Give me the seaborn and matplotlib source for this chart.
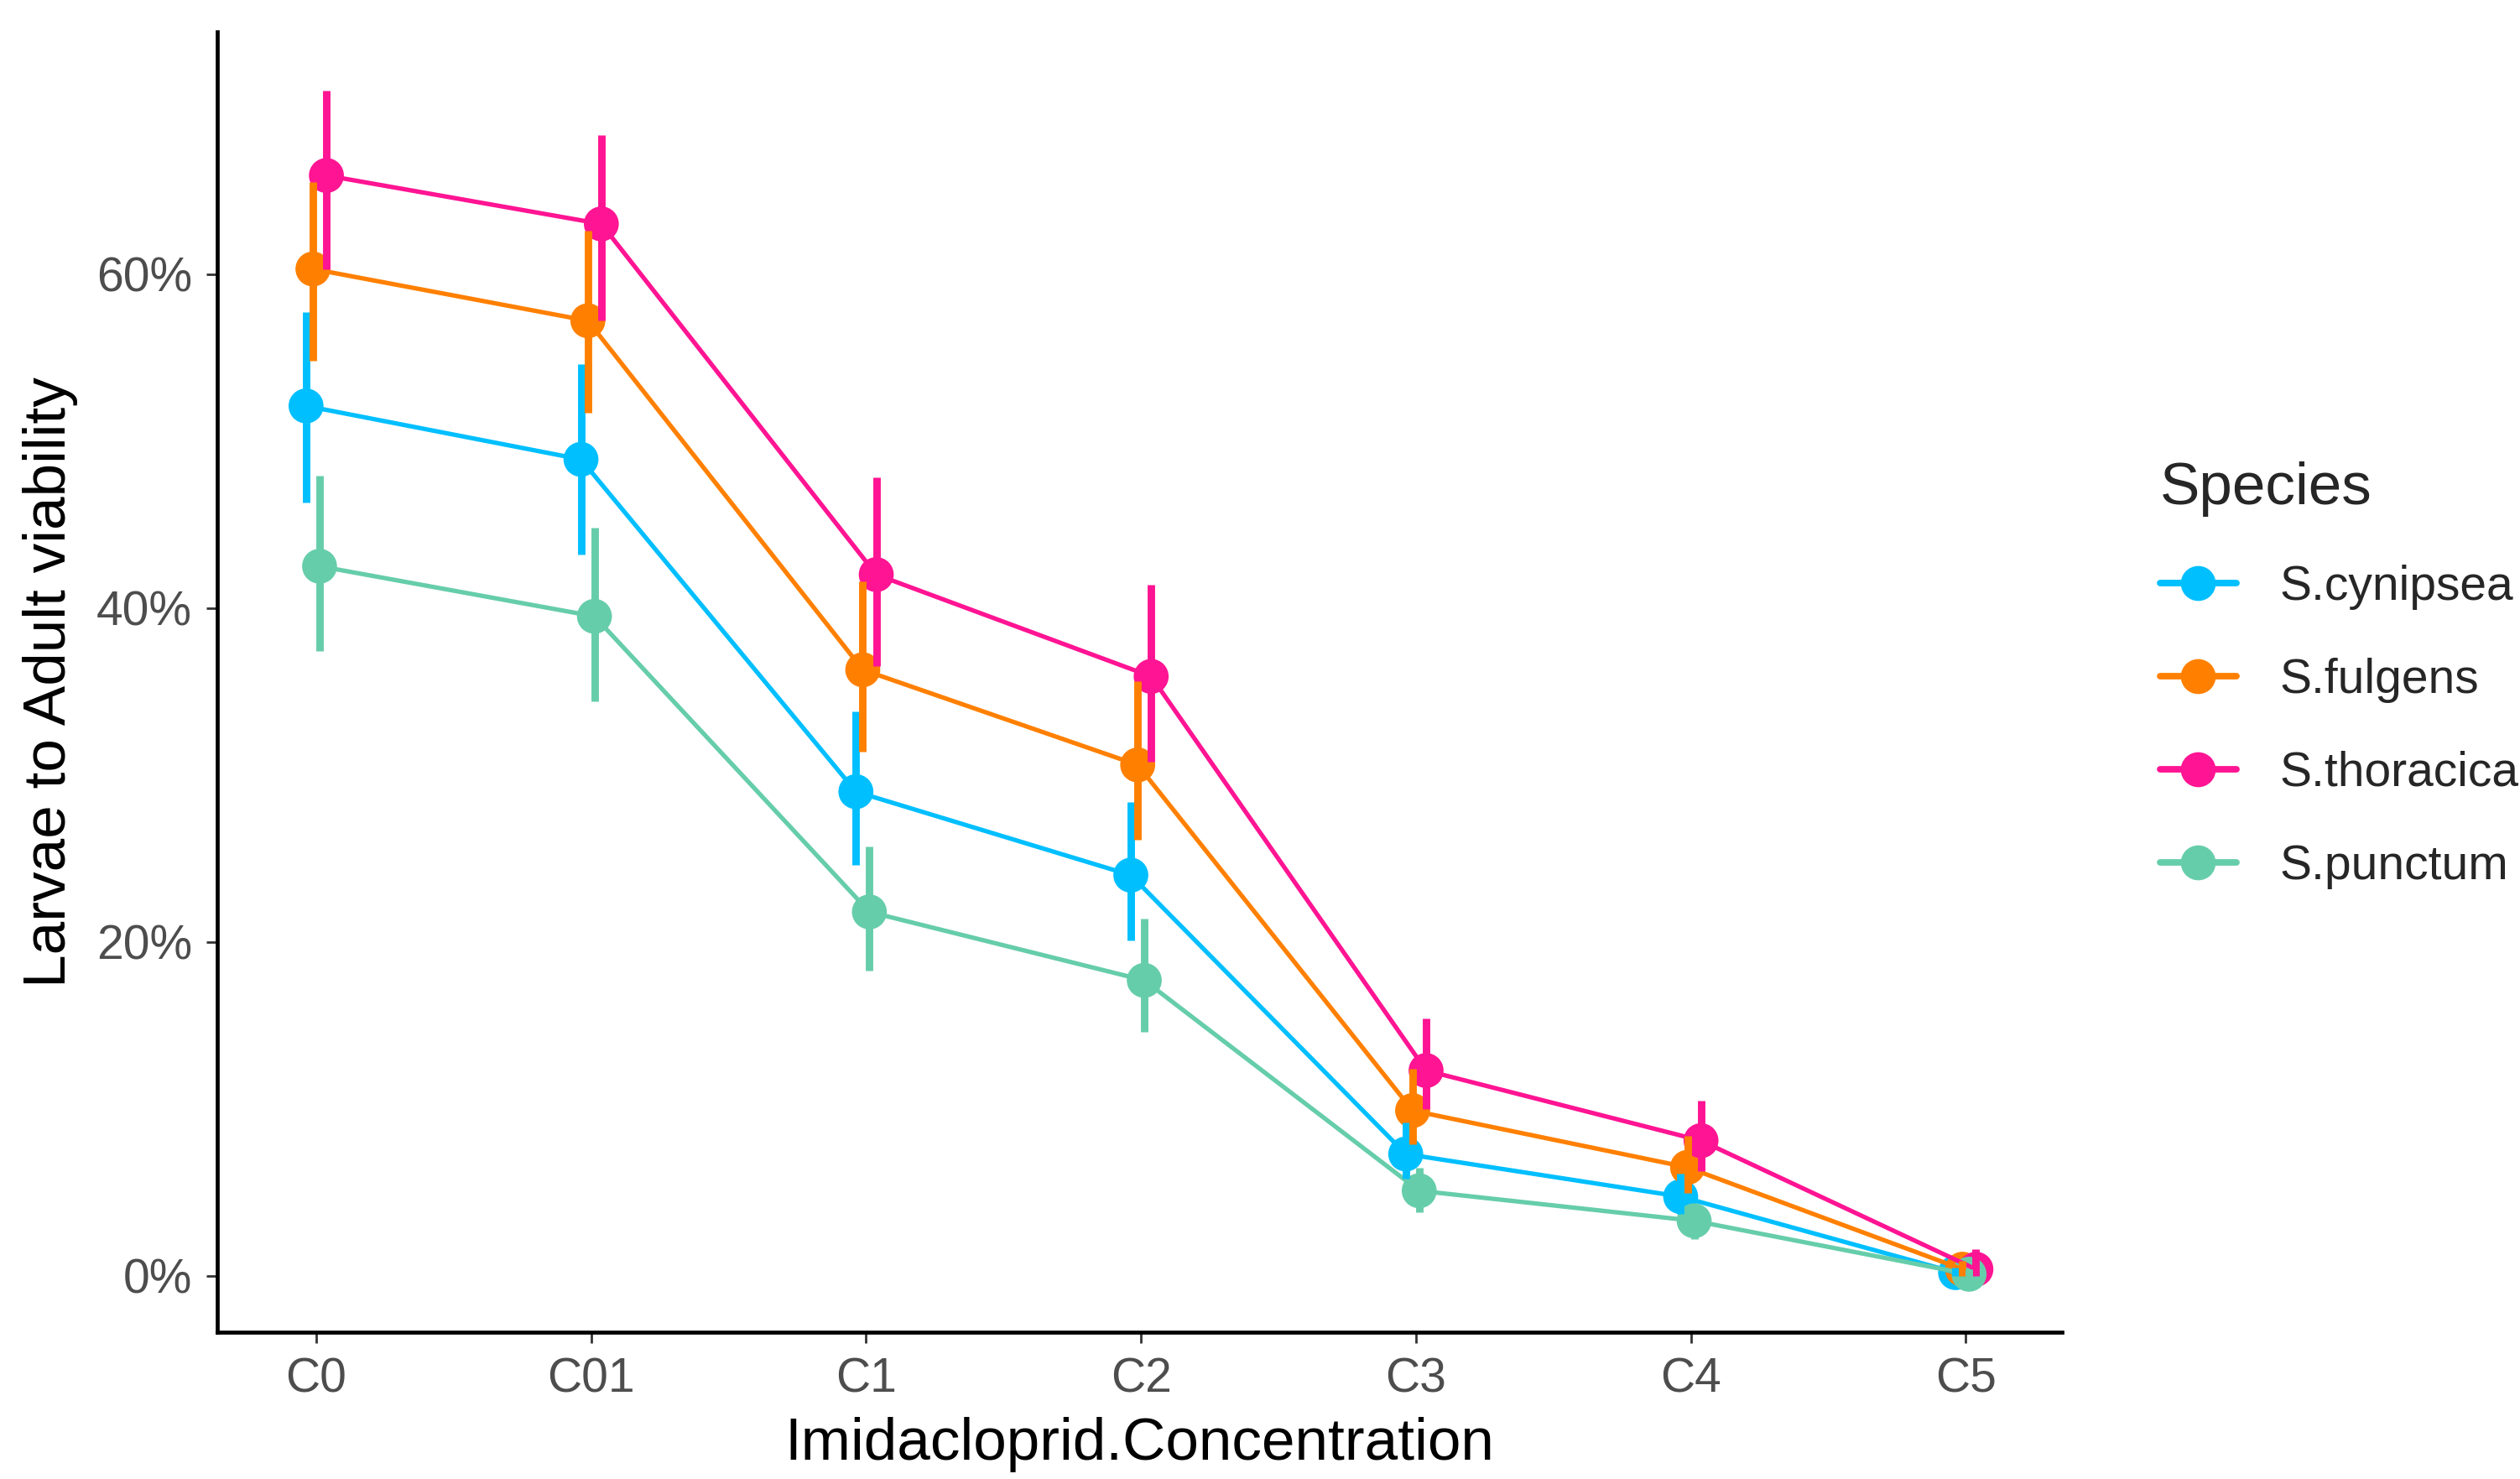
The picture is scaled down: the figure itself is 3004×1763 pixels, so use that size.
import matplotlib
matplotlib.use("Agg")
import matplotlib.pyplot as plt
from matplotlib.lines import Line2D
from matplotlib.ticker import FuncFormatter
import seaborn as sns
import pandas as pd
import numpy as np

# ---- data (in percent) ----
concentrations = ["C0", "C01", "C1", "C2", "C3", "C4", "C5"]
species = ["S.cynipsea", "S.fulgens", "S.thoracica", "S.punctum"]

cynipsea_mean = [52.1, 48.9, 29.0, 24.0, 7.3, 4.75, 0.2]
cynipsea_lo = [46.3, 43.2, 24.6, 20.1, 5.8, 3.7, 0.0]
cynipsea_hi = [57.7, 54.6, 33.8, 28.4, 9.2, 6.1, 0.5]

fulgens_mean = [60.3, 57.2, 36.3, 30.6, 9.9, 6.5, 0.4]
fulgens_lo = [54.8, 51.7, 31.4, 26.1, 7.9, 4.95, 0.0]
fulgens_hi = [65.5, 62.6, 41.6, 35.6, 12.4, 8.4, 0.9]

thoracica_mean = [65.9, 63.0, 42.0, 35.9, 12.3, 8.1, 0.4]
thoracica_lo = [60.3, 57.2, 36.5, 30.8, 10.0, 6.3, 0.0]
thoracica_hi = [71.0, 68.3, 47.8, 41.4, 15.4, 10.5, 1.6]

punctum_mean = [42.5, 39.5, 21.8, 17.7, 5.1, 3.3, 0.1]
punctum_lo = [37.4, 34.4, 18.3, 14.6, 3.8, 2.2, 0.0]
punctum_hi = [47.9, 44.8, 25.7, 21.4, 6.5, 4.3, 0.4]

colors = {"S.cynipsea": "#00BFFF", "S.fulgens": "#FF8000",
          "S.thoracica": "#FF1493", "S.punctum": "#66CDAA"}
# small dodge so the points don't sit exactly on top of each other
dodge = {"S.cynipsea": -0.037, "S.fulgens": -0.012,
         "S.punctum": 0.012, "S.thoracica": 0.037}

series = {
    "S.cynipsea": (cynipsea_mean, cynipsea_lo, cynipsea_hi),
    "S.fulgens": (fulgens_mean, fulgens_lo, fulgens_hi),
    "S.thoracica": (thoracica_mean, thoracica_lo, thoracica_hi),
    "S.punctum": (punctum_mean, punctum_lo, punctum_hi),
}

rows = []
for sp in species:
    m, lo, hi = series[sp]
    for i, c in enumerate(concentrations):
        rows.append({"Species": sp, "conc": c, "x": i + dodge[sp],
                     "viability": m[i], "lo": lo[i], "hi": hi[i]})
df = pd.DataFrame(rows)

# ---- plot ----
sns.set_theme(style="ticks")
plt.rcParams["font.family"] = ["Liberation Sans", "DejaVu Sans"]

fig = plt.figure(figsize=(15.02, 8.815), dpi=200)
ax = fig.add_axes([259 / 3004, 1 - 1588 / 1763, 2199 / 3004, 1550 / 1763])

sns.lineplot(data=df, x="x", y="viability", hue="Species", hue_order=species,
             palette=colors, estimator=None, sort=False, linewidth=1.9,
             legend=False, zorder=3, ax=ax)
sns.scatterplot(data=df, x="x", y="viability", hue="Species", hue_order=species,
                palette=colors, s=225, linewidth=0, legend=False, zorder=2, ax=ax)
for sp in species:
    sub = df[df["Species"] == sp]
    ax.vlines(sub["x"], sub["lo"], sub["hi"], color=colors[sp],
              linewidth=3.2, zorder=4)

ax.set_xlim(-0.36, 6.35)
ax.set_ylim(-3.37, 74.5)
ax.set_xticks(range(len(concentrations)))
ax.set_xticklabels(concentrations)
ax.set_yticks([0, 20, 40, 60])
ax.yaxis.set_major_formatter(FuncFormatter(lambda v, p: f"{v:.0f}%"))

ax.set_xlabel("Imidacloprid.Concentration", fontsize=25.6, color="black", labelpad=6)
ax.set_ylabel("Larvae to Adult viability", fontsize=25.6, color="black", labelpad=8)
ax.tick_params(axis="both", labelsize=20.5, labelcolor="#4D4D4D", color="#333333",
               length=4.8, width=1.0, pad=6)

sns.despine(ax=ax)
for s in ["left", "bottom"]:
    ax.spines[s].set_linewidth(1.7)
    ax.spines[s].set_color("black")

handles = [Line2D([0], [0], color=colors[sp], lw=2.8, marker="o",
                  markersize=15, markeredgewidth=0) for sp in species]
leg = ax.legend(handles, species, title="Species", loc="upper left",
                bbox_to_anchor=(2552 / 3004, 1 - 527 / 1763),
                bbox_transform=fig.transFigure, frameon=False,
                fontsize=20.5, title_fontsize=25.6, handlelength=1.6,
                handletextpad=0.9, labelspacing=1.0, borderaxespad=0)
leg._legend_box.align = "left"

fig.savefig("out.png", dpi=200)
